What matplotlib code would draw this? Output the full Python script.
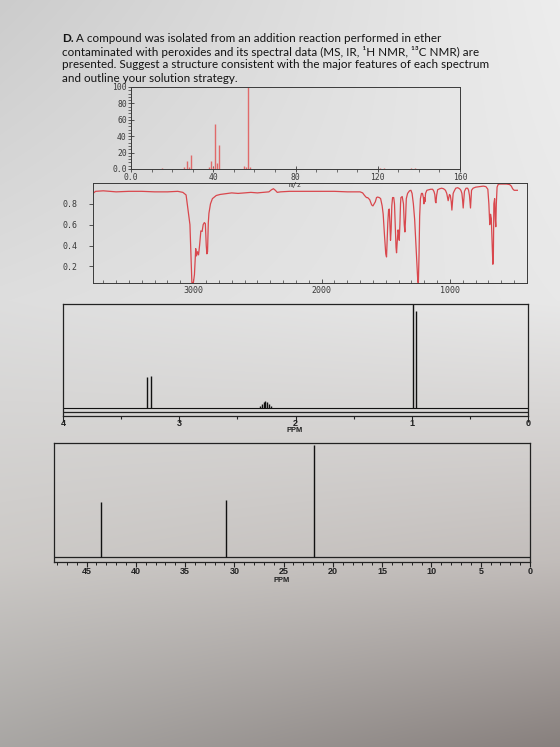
import numpy as np
import matplotlib
matplotlib.use('Agg')
import matplotlib.pyplot as plt
from matplotlib.ticker import MultipleLocator, FixedLocator, FixedFormatter

# ---------------- data ----------------
title_lines = [
    "A compound was isolated from an addition reaction performed in ether",
    "contaminated with peroxides and its spectral data (MS, IR, \u00b9H NMR, \u00b9\u00b3C NMR) are",
    "presented. Suggest a structure consistent with the major features of each spectrum",
    "and outline your solution strategy.",
]

ms_mz = [15, 26, 27, 28, 29, 38, 39, 40, 41, 42, 43, 55, 56, 57, 58, 121, 123, 136, 138]
ms_int = [1, 2, 10, 3, 17, 2, 10, 2, 55, 7, 29, 4, 2, 100, 3, 0.8, 0.8, 1.0, 1.0]
ms_xticks = [0, 40, 80, 120, 160]
ms_xlabels = ["0.0", "40", "80", "120", "160"]
ms_yticks = [0, 20, 40, 60, 80, 100]
ms_ylabels = ["0.0", "20", "40", "60", "80", "100"]

ir_pts = [
    (3780, 0.90), (3760, 0.92), (3700, 0.925), (3600, 0.915), (3500, 0.92), (3400, 0.92),
    (3300, 0.915), (3200, 0.915), (3120, 0.92), (3080, 0.91), (3055, 0.885), (3035, 0.70),
    (3025, 0.60), (3015, 0.25), (3010, 0.045), (2998, 0.045), (2990, 0.12), (2980, 0.37),
    (2974, 0.30), (2966, 0.34), (2958, 0.31), (2950, 0.40), (2940, 0.54), (2930, 0.535),
    (2922, 0.60), (2913, 0.62), (2905, 0.61), (2898, 0.40), (2893, 0.32), (2888, 0.34),
    (2882, 0.62), (2877, 0.71), (2865, 0.80), (2850, 0.85), (2820, 0.88), (2790, 0.89),
    (2760, 0.895), (2700, 0.905), (2650, 0.90), (2600, 0.905), (2550, 0.91), (2500, 0.905),
    (2450, 0.91), (2410, 0.915), (2390, 0.935), (2375, 0.945), (2360, 0.93), (2345, 0.91),
    (2320, 0.915), (2250, 0.92), (2150, 0.92), (2050, 0.92), (2000, 0.92), (1900, 0.92),
    (1800, 0.915), (1700, 0.915), (1680, 0.905), (1665, 0.88), (1650, 0.86), (1641, 0.86),
    (1625, 0.84), (1610, 0.79), (1600, 0.78), (1590, 0.80), (1581, 0.82), (1572, 0.86),
    (1564, 0.865), (1550, 0.86), (1540, 0.85), (1528, 0.78), (1520, 0.70), (1510, 0.50),
    (1500, 0.32), (1494, 0.29), (1489, 0.45), (1484, 0.62), (1478, 0.74), (1473, 0.75),
    (1468, 0.62), (1463, 0.45), (1458, 0.55), (1453, 0.78), (1447, 0.86), (1438, 0.86),
    (1432, 0.80), (1425, 0.55), (1420, 0.38), (1416, 0.33), (1410, 0.45), (1404, 0.55),
    (1400, 0.52), (1395, 0.45), (1390, 0.60), (1385, 0.80), (1382, 0.86), (1372, 0.87),
    (1362, 0.80), (1356, 0.60), (1351, 0.53), (1346, 0.65), (1340, 0.85), (1330, 0.90),
    (1315, 0.925), (1304, 0.93), (1295, 0.90), (1285, 0.80), (1275, 0.65), (1265, 0.40),
    (1255, 0.15), (1250, 0.045), (1246, 0.045), (1241, 0.30), (1236, 0.68), (1230, 0.85),
    (1222, 0.90), (1214, 0.90), (1207, 0.86), (1203, 0.80), (1199, 0.86), (1195, 0.82),
    (1190, 0.90), (1180, 0.93), (1165, 0.935), (1150, 0.94), (1135, 0.94), (1125, 0.92),
    (1118, 0.89), (1113, 0.82), (1109, 0.81), (1104, 0.88), (1096, 0.935), (1080, 0.945),
    (1065, 0.95), (1050, 0.945), (1035, 0.93), (1025, 0.90), (1020, 0.87), (1014, 0.83),
    (1009, 0.86), (1004, 0.89), (997, 0.88), (990, 0.82), (985, 0.74), (980, 0.82),
    (975, 0.90), (968, 0.92), (955, 0.95), (940, 0.955), (925, 0.945), (915, 0.93),
    (907, 0.90), (902, 0.84), (897, 0.76), (892, 0.84), (887, 0.92), (875, 0.95),
    (862, 0.95), (855, 0.93), (848, 0.88), (843, 0.80), (840, 0.76), (836, 0.85),
    (832, 0.93), (820, 0.95), (800, 0.96), (770, 0.965), (740, 0.97), (720, 0.965),
    (705, 0.94), (697, 0.80), (690, 0.60), (684, 0.70), (678, 0.66), (672, 0.45),
    (666, 0.22), (662, 0.30), (658, 0.80), (652, 0.85), (647, 0.65), (643, 0.58),
    (639, 0.80), (633, 0.96), (625, 0.985), (615, 0.99), (590, 0.99), (560, 0.99),
    (535, 0.985), (522, 0.97), (512, 0.945), (500, 0.93), (490, 0.93), (475, 0.93),
]
ir_wn = [p[0] for p in ir_pts]
ir_t = [p[1] for p in ir_pts]
ir_xticks = [3000, 2000, 1000]
ir_yticks = [0.2, 0.4, 0.6, 0.8]

h_ppm = [3.275, 3.245, 2.305, 2.29, 2.275, 2.26, 2.245, 2.23, 2.215, 0.985, 0.962]
h_int = [0.30, 0.31, 0.015, 0.035, 0.06, 0.07, 0.06, 0.035, 0.015, 1.0, 0.93]
h_ticks = [4, 3, 2, 1, 0]

c_ppm = [43.5, 30.8, 21.9]
c_int = [0.48, 0.50, 0.98]
c_ticks = [45, 40, 35, 30, 25, 20, 15, 10, 5, 0]

# ---------------- figure ----------------
W, H = 560, 747
fig = plt.figure(figsize=(5.6, 7.47), dpi=100)

def box(l, t, r, b):
    return [l / W, 1 - b / H, (r - l) / W, (b - t) / H]

# photographed-paper background
bg = fig.add_axes([0, 0, 1, 1], zorder=-10)
yc = np.array([0, 300, 560, 747])
left = np.array([[0.80, 0.80, 0.80], [0.87, 0.87, 0.87], [0.80, 0.79, 0.78], [0.66, 0.65, 0.64]])
right = np.array([[0.93, 0.93, 0.93], [0.91, 0.91, 0.91], [0.76, 0.74, 0.73], [0.53, 0.50, 0.49]])
yy = np.arange(H)
xx = np.linspace(0, 1, W)
img = np.zeros((H, W, 3))
for c in range(3):
    lcol = np.interp(yy, yc, left[:, c])
    rcol = np.interp(yy, yc, right[:, c])
    img[:, :, c] = lcol[:, None] * (1 - xx[None, :]) + rcol[:, None] * xx[None, :]
bg.imshow(img, aspect='auto', extent=[0, 1, 0, 1], origin='upper')
bg.set_xlim(0, 1); bg.set_ylim(0, 1)
bg.axis('off')

# title text
tfam = ['Lato', 'DejaVu Sans']
tsize = 8.4
ys_t = [38, 52, 65, 79]
fig.text(62 / W, 1 - ys_t[0] / H, "D.", fontsize=tsize, family=tfam, weight='bold',
         color='#141414', va='center', ha='left')
fig.text(76 / W, 1 - ys_t[0] / H, title_lines[0], fontsize=tsize, family=tfam,
         color='#141414', va='center', ha='left')
for line, y in zip(title_lines[1:], ys_t[1:]):
    fig.text(62 / W, 1 - y / H, line, fontsize=tsize, family=tfam,
             color='#141414', va='center', ha='left')

mono = 'DejaVu Sans Mono'
spc = '#3a3a3a'

# ---------------- MS ----------------
ax1 = fig.add_axes(box(131, 87, 460, 169))
ax1.patch.set_alpha(0)
ax1.vlines(ms_mz, 0, ms_int, color='#e06a6a', lw=1.0)
ax1.set_xlim(0, 160)
ax1.set_ylim(0, 100)
ax1.xaxis.set_major_locator(FixedLocator(ms_xticks))
ax1.xaxis.set_major_formatter(FixedFormatter(ms_xlabels))
ax1.xaxis.set_minor_locator(MultipleLocator(10))
ax1.yaxis.set_major_locator(FixedLocator(ms_yticks))
ax1.yaxis.set_major_formatter(FixedFormatter(ms_ylabels))
ax1.yaxis.set_minor_locator(MultipleLocator(4))
ax1.tick_params(axis='both', which='major', direction='inout', length=4, width=0.6,
                colors=spc, labelsize=5.8, pad=1)
ax1.tick_params(axis='both', which='minor', direction='out', length=2, width=0.5, colors=spc)
for lab in ax1.get_xticklabels() + ax1.get_yticklabels():
    lab.set_family(mono)
for s in ax1.spines.values():
    s.set_color(spc); s.set_linewidth(0.7)
fig.text(295 / W, 1 - 184.5 / H, "m/z", fontsize=5.2, family=mono, color=spc, ha='center', va='center')

# ---------------- IR ----------------
ax2 = fig.add_axes(box(93, 183, 527, 283))
ax2.patch.set_alpha(0)
ax2.plot(ir_wn, ir_t, color='#d9474d', lw=0.9)
ax2.set_xlim(3780, 400)
ax2.set_ylim(0.04, 1.0)
ax2.xaxis.set_major_locator(FixedLocator(ir_xticks))
ax2.xaxis.set_minor_locator(MultipleLocator(100))
ax2.yaxis.set_major_locator(FixedLocator(ir_yticks))
ax2.yaxis.set_major_formatter(FixedFormatter(["0.2", "0.4", "0.6", "0.8"]))
ax2.yaxis.set_minor_locator(MultipleLocator(0.1))
ax2.tick_params(axis='x', which='major', direction='in', length=3, width=0.6, colors=spc,
                labelsize=6, pad=2)
ax2.tick_params(axis='x', which='minor', direction='in', length=2, width=0.5, colors=spc)
ax2.tick_params(axis='y', which='major', direction='out', length=3, width=0.6, colors=spc,
                labelsize=6, pad=8)
ax2.tick_params(axis='y', which='minor', direction='out', length=0)
for lab in ax2.get_xticklabels() + ax2.get_yticklabels():
    lab.set_family(mono)
for s in ax2.spines.values():
    s.set_color(spc); s.set_linewidth(0.7)

# ---------------- 1H NMR ----------------
nfam = ['Liberation Sans', 'DejaVu Sans']
ax3 = fig.add_axes(box(63, 304, 528, 416))
ax3.patch.set_alpha(0)
hb = 0.071
ax3.set_xlim(4, 0)
ax3.set_ylim(0, 1)
ax3.plot([4, 0], [hb, hb], color='#111111', lw=0.8)
ax3.axhline(0.036, color='#222222', lw=0.9)
ax3.vlines(h_ppm, hb, [hb + v * (1 - hb) for v in h_int], color='#111111', lw=1.0)
ax3.xaxis.set_major_locator(FixedLocator(h_ticks))
ax3.xaxis.set_minor_locator(MultipleLocator(0.5))
ax3.set_yticks([])
ax3.tick_params(axis='x', which='major', direction='out', length=4, width=0.8, colors='#222222',
                labelsize=6.5, pad=-1.5)
ax3.tick_params(axis='x', which='minor', direction='out', length=2.5, width=0.8, colors='#222222')
for lab in ax3.get_xticklabels():
    lab.set_family(nfam); lab.set_weight('bold')
for s in ax3.spines.values():
    s.set_color('#222222'); s.set_linewidth(0.9)
fig.text(295 / W, 1 - 430.5 / H, "PPM", fontsize=5.4, family=nfam, weight='bold',
         color='#222222', ha='center', va='center')

# ---------------- 13C NMR ----------------
ax4 = fig.add_axes(box(54, 443, 530, 562))
ax4.patch.set_alpha(0)
cb = 0.045
ax4.set_xlim(48.3, 0)
ax4.set_ylim(0, 1)
ax4.axhline(cb, color='#222222', lw=0.9)
ax4.vlines(c_ppm, cb, [cb + v * (1 - cb) for v in c_int], color='#111111', lw=1.0)
ax4.xaxis.set_major_locator(FixedLocator(c_ticks))
ax4.xaxis.set_minor_locator(MultipleLocator(1))
ax4.set_yticks([])
ax4.tick_params(axis='x', which='major', direction='out', length=3.5, width=0.8, colors='#222222',
                labelsize=6.5, pad=0)
ax4.tick_params(axis='x', which='minor', direction='out', length=2.5, width=0.7, colors='#222222')
for lab in ax4.get_xticklabels():
    lab.set_family(nfam); lab.set_weight('bold')
for s in ax4.spines.values():
    s.set_color('#222222'); s.set_linewidth(0.9)
fig.text(282 / W, 1 - 580.5 / H, "PPM", fontsize=5.4, family=nfam, weight='bold',
         color='#222222', ha='center', va='center')

fig.savefig('out.png', dpi=100)
